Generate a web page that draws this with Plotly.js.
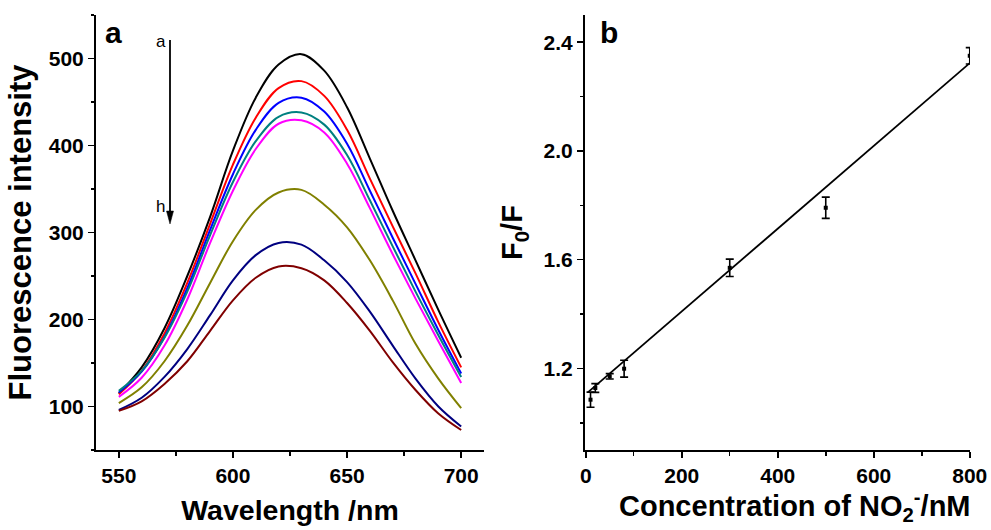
<!DOCTYPE html>
<html><head><meta charset="utf-8">
<script src="https://cdn.plot.ly/plotly-3.0.1.min.js"></script>
<style>html,body{margin:0;padding:0;background:#fff}
.xtick text,.ytick text,.x2tick text,.y2tick text{font-weight:bold !important}</style>
</head><body><div id="chart" style="width:991px;height:530px"></div>
<script>
// ---- Panel a data: fluorescence spectra (curves a..h) ----
const wavelength = [550,560,570,580,590,600,610,620,630,640,650,660,670,680,690,700];
const curveLabels = ['a','b','c','d','e','f','g','h'];
const curveA = [115,145,190,250,318,394,455,493,505,486,444,385,325,268,211,156];
const curveB = [114,141,184,242,310,378,432,466,474,457,418,362,307,253,197,145];
const curveC = [116,140,180,236,303,367,418,449,455,439,402,348,294,241,188,138];
const curveD = [118,141,179,232,297,358,405,433,438,424,389,337,284,232,182,134];
const curveE = [111,133,170,223,288,348,396,425,429,415,379,328,275,224,175,127];
const curveF = [104,122,152,193,242,290,326,346,349,332,306,268,222,172,132,98];
const curveG = [96,110,134,166,205,245,274,288,286,268,243,209,170,132,100,77];
const curveH = [95,106,126,152,187,222,248,261,259,245,219,187,151,119,92,73];

// tick values / labels
const wavelengthTicks = [550,600,650,700];
const intensityTicks = [100,200,300,400,500];
const concentrationTicks = [0,200,400,600,800];
const ratioTicks = [1.2,1.6,2.0,2.4];
const ratioTickText = ['1.2','1.6','2.0','2.4'];

// ---- Panel b data: F0/F vs nitrite concentration ----
const concentration = [10,20,50,80,300,500,800];
const ratioF0F = [1.085,1.128,1.171,1.199,1.570,1.791,2.350];
const ratioError = [0.028,0.016,0.010,0.031,0.032,0.039,0.030];
const fitSlope = 0.001522;
const fitIntercept = 1.1054;
const fitRange = [5, 800];

// ---- styles ----
const curveColors = ['#000000','#ff0000','#0000ff','#008080','#ff00ff','#808000','#000080','#800000'];
const FONT = 'Liberation Sans, Arial, sans-serif';
const W = 991, H = 530;
const px = x => x / W, py = y => 1 - y / H;
const bold = arr => arr.map(t => '<b>' + t + '</b>');

const curves = [curveA,curveB,curveC,curveD,curveE,curveF,curveG,curveH];
const traces = curves.map((c, i) => ({
  x: wavelength, y: c, type: 'scatter', mode: 'lines', name: curveLabels[i],
  line: {color: curveColors[i], width: 2, shape: 'spline', smoothing: 1},
  xaxis: 'x', yaxis: 'y', showlegend: false
}));

traces.push({
  x: concentration, y: ratioF0F, type: 'scatter', mode: 'markers',
  marker: {color: '#000', size: 4, symbol: 'square'},
  error_y: {type: 'data', array: ratioError, visible: true, color: '#000', thickness: 1.6, width: 4},
  xaxis: 'x2', yaxis: 'y2', showlegend: false
});
traces.push({
  x: fitRange, y: fitRange.map(v => fitIntercept + fitSlope * v), type: 'scatter', mode: 'lines',
  line: {color: '#000', width: 1.8}, xaxis: 'x2', yaxis: 'y2', showlegend: false
});

const axisCommon = {
  showgrid: false, zeroline: false, showline: true, linecolor: '#000', linewidth: 2,
  ticks: 'outside', ticklen: 6, tickwidth: 1.6, tickcolor: '#000',
  tickfont: {family: FONT, size: 21, color: '#000', weight: 700},
  automargin: false, mirror: false, tickmode: 'array'
};
const minorCommon = {ticks: 'outside', ticklen: 3.5, tickwidth: 1.5, tickcolor: '#000', showgrid: false};

const yDom = [80 / H, 515 / H];
const titleFont = s => ({family: FONT, size: s, color: '#000'});

const layout = {
  width: W, height: H, margin: {l: 0, r: 0, t: 0, b: 0},
  paper_bgcolor: '#fff', plot_bgcolor: '#fff', showlegend: false,
  font: {family: FONT, color: '#000'},
  xaxis: Object.assign({}, axisCommon, {
    domain: [px(96), px(484)], range: [540, 710], anchor: 'y',
    tickvals: wavelengthTicks, ticktext: bold(wavelengthTicks),
    minor: Object.assign({tickmode: 'linear', tick0: 550, dtick: 25}, minorCommon),
    title: {text: '<b>Wavelength /nm</b>', font: titleFont(28.5), standoff: 14}
  }),
  yaxis: Object.assign({}, axisCommon, {
    domain: yDom, range: [50, 550], anchor: 'x',
    tickvals: intensityTicks, ticktext: bold(intensityTicks),
    minor: Object.assign({tickmode: 'linear', tick0: 100, dtick: 50}, minorCommon),
    title: {text: '<b>Fluorescence intensity</b>', font: titleFont(31), standoff: 8}
  }),
  xaxis2: Object.assign({}, axisCommon, {
    domain: [px(585), px(970)], range: [-1.5, 800.5], anchor: 'y2',
    tickvals: concentrationTicks, ticktext: bold(concentrationTicks),
    minor: Object.assign({tickmode: 'linear', tick0: 0, dtick: 100}, minorCommon)
  }),
  yaxis2: Object.assign({}, axisCommon, {
    domain: yDom, range: [0.9, 2.5], anchor: 'x2',
    tickvals: ratioTicks, ticktext: bold(ratioTickText),
    minor: Object.assign({tickmode: 'linear', tick0: 1.2, dtick: 0.2}, minorCommon),
    title: {text: '<b>F<sub>0</sub>/F</b>', font: titleFont(29), standoff: 12}
  }),
  shapes: [
    {type: 'line', xref: 'paper', yref: 'paper', x0: px(170), x1: px(170), y0: py(40), y1: py(214),
     line: {color: '#000', width: 1.8}},
    {type: 'path', xref: 'paper', yref: 'paper',
     path: 'M ' + px(166.5) + ' ' + py(211) + ' L ' + px(173.5) + ' ' + py(211) + ' L ' + px(170) + ' ' + py(224) + ' Z',
     fillcolor: '#000', line: {color: '#000', width: 0.5}}
  ],
  annotations: [
    {xref: 'paper', yref: 'paper', x: px(113), y: py(33), text: '<b>a</b>', showarrow: false,
     xanchor: 'center', yanchor: 'middle', font: {family: FONT, size: 30, color: '#000'}},
    {xref: 'paper', yref: 'paper', x: px(609), y: py(33), text: '<b>b</b>', showarrow: false,
     xanchor: 'center', yanchor: 'middle', font: {family: FONT, size: 30, color: '#000'}},
    {xref: 'paper', yref: 'paper', x: px(161), y: py(42), text: 'a', showarrow: false,
     xanchor: 'center', yanchor: 'middle', font: {family: FONT, size: 17, color: '#000'}},
    {xref: 'paper', yref: 'paper', x: px(160), y: py(206), text: 'h', showarrow: false,
     xanchor: 'center', yanchor: 'middle', font: {family: FONT, size: 17, color: '#000'}},
    {xref: 'paper', yref: 'paper', x: px(795), y: py(506),
     text: '<b>Concentration of NO<sub>2</sub><sup>-</sup>/nM</b>', showarrow: false,
     xanchor: 'center', yanchor: 'middle', font: titleFont(29)}
  ]
};

Plotly.newPlot('chart', traces, layout, {staticPlot: true, displayModeBar: false});
</script>
</body></html>
